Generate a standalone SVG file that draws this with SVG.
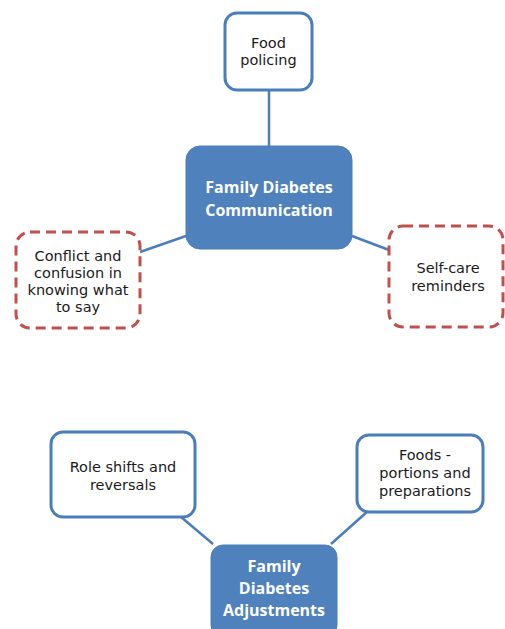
<svg xmlns="http://www.w3.org/2000/svg" width="505" height="629" viewBox="0 0 505 629">
<style>
.lbl{font-family:"DejaVu Sans",Verdana,sans-serif;font-size:14.5px;fill:#1a1a1a;text-anchor:middle}
.hub{font-family:"Open Sans",Lato,sans-serif;font-weight:bold;font-size:16px;fill:#fff;text-anchor:middle}
.bx{fill:#fff;stroke:#4A7EBB;stroke-width:3}
.dx{fill:#fff;stroke:#C0504D;stroke-width:3;stroke-dasharray:10 6}
.hb{fill:#4F81BD;stroke:#4A7EBB;stroke-width:1}
.cn{stroke:#4A7EBB;stroke-width:2.5;fill:none}
</style>
<rect width="505" height="629" fill="#fff"/>
<g id="connectors">
<line class="cn" x1="269" y1="90" x2="269" y2="146"/>
<line class="cn" x1="140" y1="252" x2="186" y2="236"/>
<line class="cn" x1="352" y1="236" x2="389" y2="250"/>
<line class="cn" x1="181" y1="517" x2="213" y2="544"/>
<line class="cn" x1="368" y1="511" x2="331" y2="544"/>
</g>
<g id="food-policing">
<rect class="bx" x="225" y="13" width="87" height="77" rx="12"/>
<text class="lbl" x="268.5" y="48">Food</text>
<text class="lbl" x="268.5" y="65">policing</text>
</g>
<g id="communication">
<rect class="hb" x="186" y="146" width="166" height="103" rx="14"/>
<text class="hub" x="269" y="193">Family Diabetes</text>
<text class="hub" x="269" y="216">Communication</text>
</g>
<g id="conflict">
<rect class="dx" x="16" y="232" width="124" height="96" rx="14"/>
<text class="lbl" x="78" y="261">Conflict and</text>
<text class="lbl" x="78" y="278">confusion in</text>
<text class="lbl" x="78" y="295">knowing what</text>
<text class="lbl" x="78" y="312">to say</text>
</g>
<g id="self-care">
<rect class="dx" x="389" y="226" width="114" height="101" rx="14"/>
<text class="lbl" x="448" y="273">Self-care</text>
<text class="lbl" x="448" y="291">reminders</text>
</g>
<g id="role-shifts">
<rect class="bx" x="51" y="432" width="144" height="85" rx="12"/>
<text class="lbl" x="123" y="472">Role shifts and</text>
<text class="lbl" x="123" y="490">reversals</text>
</g>
<g id="foods">
<rect class="bx" x="357" y="435" width="126" height="77" rx="12"/>
<text class="lbl" x="425" y="460">Foods -</text>
<text class="lbl" x="425" y="478">portions and</text>
<text class="lbl" x="425" y="496">preparations</text>
</g>
<g id="adjustments">
<rect class="hb" x="211" y="545" width="126" height="92" rx="12"/>
<text class="hub" x="274" y="572">Family</text>
<text class="hub" x="274" y="594">Diabetes</text>
<text class="hub" x="274" y="616">Adjustments</text>
</g>
</svg>
